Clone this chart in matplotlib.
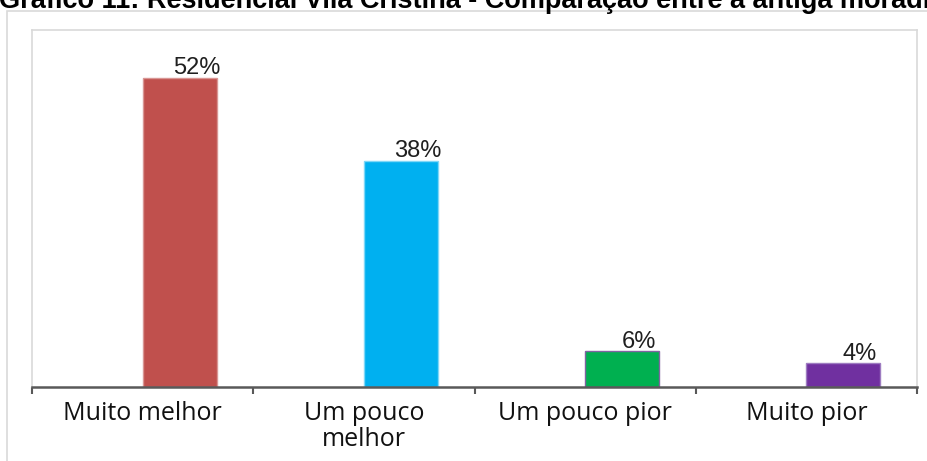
import matplotlib
matplotlib.use("Agg")
import matplotlib.pyplot as plt
from matplotlib.patches import Rectangle

# Chart data
categories = ["Muito melhor", "Um pouco\nmelhor", "Um pouco pior", "Muito pior"]
values = [52, 38, 6, 4]
value_labels = ["52%", "38%", "6%", "4%"]
bar_colors = ["#C0504D", "#00B0F0", "#00B050", "#7030A0"]
edge_colors = ["#D99694", "#7FD7F7", "#8064A2", "#9E7CC1"]
title = "Gráfico 11: Residencial Vila Cristina - Comparação entre a antiga moradia"

W, H, DPI = 927, 461, 100
fig = plt.figure(figsize=(W / DPI, H / DPI), dpi=DPI)
fig.patch.set_facecolor("white")

# Title line, partly above the top edge
fig.text(-1 / W, 1 - 8 / H, title, fontsize=19.5, fontweight="bold",
         family="Liberation Sans", color="black", ha="left", va="baseline")

# Outer chart frame
fig.add_artist(Rectangle((7.5 / W, -0.1), 1.2, 1 - 11 / H + 0.1,
                         transform=fig.transFigure, fill=False,
                         edgecolor="#D9D9D9", linewidth=1.2))

left, right, top, bottom = 32, 917, 30, 387
ax = fig.add_axes([left / W, (H - bottom) / H, (right - left) / W, (bottom - top) / H])

n = len(categories)
bar_w = 0.335
xs = list(range(n))
ax.bar(xs, values, width=bar_w, align="edge", color=bar_colors,
       edgecolor=edge_colors, linewidth=1.0, zorder=2)

for x, v, lab in zip(xs, values, value_labels):
    ax.annotate(lab, (x + bar_w / 2, v), xytext=(12, -1), textcoords="offset points",
                ha="center", va="bottom", fontsize=17, family="Liberation Sans",
                color="#1f1f1f")

ax.set_xlim(-0.5, n - 0.5)
ax.set_ylim(0, 60)
ax.set_yticks([])

ax.set_xticks(xs)
ax.set_xticklabels(categories, fontsize=18, family="Open Sans", color="#111111",
                   linespacing=1.05)
ax.set_xticks([i - 0.5 for i in range(n + 1)], minor=True)
ax.tick_params(axis="x", which="major", length=0, pad=10)
ax.tick_params(axis="x", which="minor", length=5, width=1.5, color="#595959",
               direction="out")

for side in ("top", "left", "right"):
    ax.spines[side].set_color("#D9D9D9")
    ax.spines[side].set_linewidth(1.2)
ax.spines["bottom"].set_color("#595959")
ax.spines["bottom"].set_linewidth(1.8)
ax.spines["bottom"].set_zorder(3)

fig.savefig("out.png", dpi=DPI)
